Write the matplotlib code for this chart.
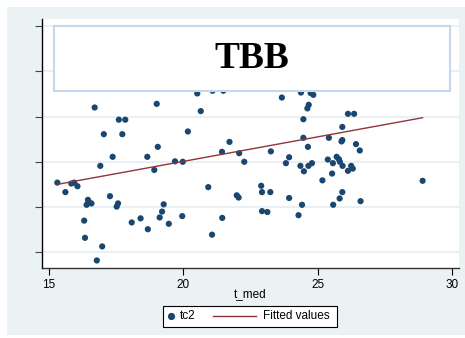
import matplotlib
matplotlib.use("Agg")
import matplotlib.pyplot as plt
from matplotlib.patches import Rectangle
from matplotlib.lines import Line2D
import numpy as np

# ---- data ----
t_med = [16.70, 19.01, 17.60, 17.84, 17.04, 17.73, 19.05, 17.37, 18.66, 16.91,
         18.92, 19.69, 19.98, 20.52, 21.09, 21.49, 20.65, 20.17, 21.72, 21.44,
         22.08, 22.27, 23.26, 23.67, 24.38, 24.74, 24.84, 24.67, 24.62, 24.47,
         24.47, 24.64, 23.94, 23.82, 24.36, 24.49, 24.66, 24.79, 26.13, 26.36,
         25.92, 25.42, 25.89, 25.92, 26.43, 26.57, 25.38, 25.57, 25.71, 25.79,
         25.83, 25.93, 26.25, 26.31, 26.13, 25.54, 25.18, 28.91, 15.31, 15.61,
         15.83, 15.94, 16.06, 16.45, 16.48, 16.40, 16.58, 17.27, 17.57, 17.52,
         16.31, 16.34, 16.98, 16.78, 18.08, 18.41, 18.68, 19.12, 19.21, 19.27,
         19.46, 19.96, 20.93, 21.07, 21.45, 21.99, 22.06, 22.90, 22.93, 23.24,
         22.93, 23.13, 23.94, 24.42, 24.29, 25.92, 25.82, 25.58, 26.60]
tc2 = [3.20, 3.28, 2.93, 2.93, 2.61, 2.61, 2.33, 2.11, 2.11, 1.91,
       1.82, 2.01, 2.00, 3.51, 3.57, 3.57, 3.12, 2.67, 2.44, 2.22,
       2.19, 2.00, 2.23, 3.42, 3.53, 3.52, 3.48, 3.26, 3.18, 2.94,
       2.53, 2.33, 2.10, 1.97, 1.91, 1.79, 1.91, 1.97, 3.06, 3.06,
       2.77, 2.53, 2.45, 2.48, 2.39, 2.25, 2.05, 1.97, 2.11, 2.06,
       2.00, 1.91, 1.91, 1.85, 1.80, 1.74, 1.59, 1.58, 1.54, 1.33,
       1.52, 1.54, 1.46, 1.16, 1.12, 1.05, 1.08, 1.24, 1.08, 1.01,
       0.70, 0.32, 0.13, -0.18, 0.66, 0.75, 0.51, 0.77, 0.90, 1.06,
       0.63, 0.80, 1.44, 0.39, 0.76, 1.26, 1.21, 1.47, 1.33, 1.33,
       0.91, 0.89, 1.20, 1.05, 0.82, 1.33, 1.19, 1.05, 1.13]
fit_intercept = -0.157
fit_slope = 0.1083
x_ticks = [15, 20, 25, 30]
y_ticks = [0, 1, 2, 3, 4, 5]
title = "TBB"
x_label = "t_med"
legend_labels = ["tc2", "Fitted values"]

marker_color = "#1A476F"
line_color = "#90353B"
bg_color = "#EAF2F3"

W, H = 465, 338
fig = plt.figure(figsize=(W / 100, H / 100), dpi=100)
fig.patch.set_facecolor("white")
fig.patches.append(Rectangle((7 / W, 3 / H), 458 / W, 328 / H,
                             transform=fig.transFigure, facecolor=bg_color,
                             edgecolor="none", zorder=-5))

ax = fig.add_axes([41.7 / W, 1 - 267.7 / H, (459.3 - 41.7) / W, (267.7 - 19) / H])
ax.set_facecolor("white")
ax.set_zorder(1)

x = np.array(t_med)
y = np.array(tc2)
ax.scatter(x, y, s=20, color=marker_color, edgecolors="none", zorder=3)
xf = np.array([x.min(), x.max()])
ax.plot(xf, fit_intercept + fit_slope * xf, color=line_color, lw=1.0, zorder=4)

ax.set_xlim(14.728, 30.276)
ax.set_ylim(-0.340, 5.155)
ax.set_xticks(x_ticks)
ax.set_xticklabels([str(t) for t in x_ticks], fontsize=8.5, family="Liberation Sans")
ax.set_yticks(y_ticks)
ax.set_yticklabels([])
ax.tick_params(axis="x", length=5, width=0.8, color="black", pad=3)
ax.tick_params(axis="y", length=5, width=0.8, color="#444444")
ax.grid(axis="y", color="#E6EEF0", lw=1.2, zorder=1)
ax.set_axisbelow(True)
for s in ["top", "right"]:
    ax.spines[s].set_visible(False)
ax.spines["left"].set_color("black")
ax.spines["bottom"].set_color("#333333")
ax.spines["left"].set_linewidth(1.0)
ax.spines["bottom"].set_linewidth(1.0)
ax.set_xlabel(x_label, fontsize=8.5, family="Liberation Sans", labelpad=-2)

# title box drawn over the plot
fig.patches.append(Rectangle((54.3 / W, 1 - 90.7 / H), (450.3 - 54.3) / W, (90.7 - 26) / H,
                             transform=fig.transFigure, facecolor="white",
                             edgecolor="#C5D7EE", lw=1.5, zorder=10))
fig.text(252.3 / W, 1 - 58.5 / H, title, fontsize=27, fontweight="bold",
         family="Liberation Serif", ha="center", va="center", zorder=11)

# legend box (Stata style)
ly = 1 - 316.3 / H
fig.patches.append(Rectangle((163 / W, 1 - 327 / H), (337 - 163) / W, (327 - 305.7) / H,
                             transform=fig.transFigure, facecolor="white",
                             edgecolor="black", lw=0.8, zorder=10))
fig.lines.append(Line2D([170.7 / W], [ly], marker="o", ls="none", color=marker_color,
                        markersize=5.2, markeredgewidth=0, transform=fig.transFigure, zorder=11))
fig.text(180 / W, ly, legend_labels[0], fontsize=8.5, family="Liberation Sans",
         ha="left", va="center", zorder=11)
fig.lines.append(Line2D([213.3 / W, 256.3 / W], [ly, ly], color=line_color, lw=1.0,
                        transform=fig.transFigure, zorder=11))
fig.text(263 / W, ly, legend_labels[1], fontsize=8.5, family="Liberation Sans",
         ha="left", va="center", zorder=11)

fig.savefig("out.png", dpi=100, facecolor="white")
